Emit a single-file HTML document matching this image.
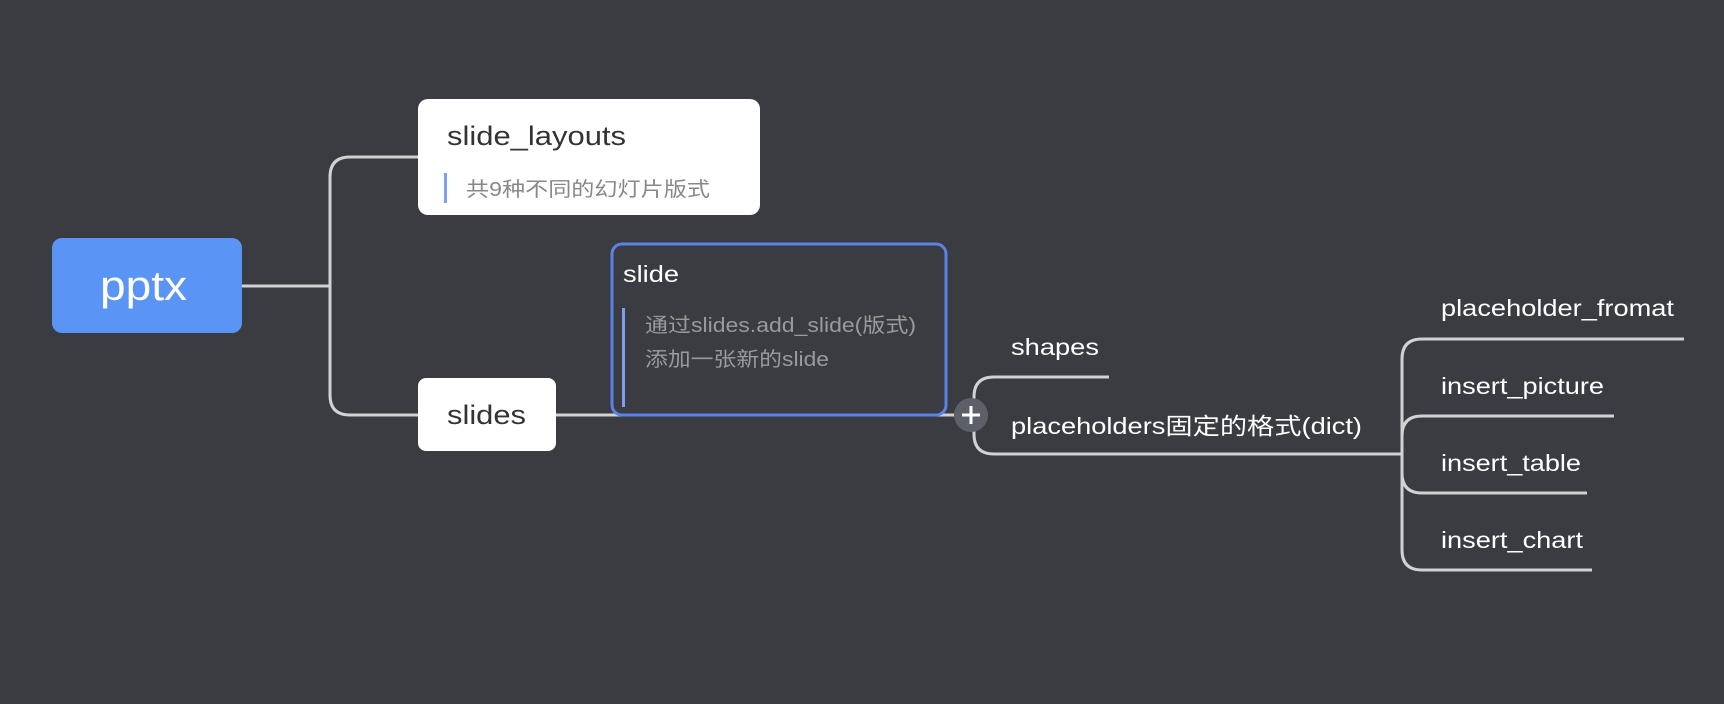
<!DOCTYPE html>
<html><head><meta charset="utf-8"><style>
html,body{margin:0;padding:0;background:#3b3c41;}
svg{display:block}
text{font-family:"Liberation Sans","Noto Sans CJK SC",sans-serif;}
</style></head><body>
<svg width="1724" height="704" viewBox="0 0 1724 704" xmlns="http://www.w3.org/2000/svg">
<rect width="1724" height="704" fill="#3b3c41"/>
<g fill="none" stroke="#d2d2d2" stroke-width="3">
<path d="M242 286 H330"/>
<path d="M418 157 H350 Q330 157 330 177 V395 Q330 415 350 415 H418"/>
<path d="M556 415 H971"/>
<path d="M1109 377 H994 Q974 377 974 397 V434 Q974 454 994 454 H1402"/>
<path d="M1684 339 H1422 Q1402 339 1402 359 V550 Q1402 570 1422 570 H1592"/>
<path d="M1614 416 H1422 Q1402 416 1402 436"/>
<path d="M1587 493 H1422 Q1402 493 1402 473"/>
</g>
<rect x="52" y="238" width="190" height="95" rx="10" fill="#5a95f5"/>
<text x="100" y="300" font-size="42" fill="#fff" font-weight="300" textLength="87" lengthAdjust="spacingAndGlyphs">pptx</text>
<rect x="418" y="99" width="342" height="116" rx="10" fill="#fff"/>
<text x="447" y="145" font-size="27" fill="#333" textLength="179" lengthAdjust="spacingAndGlyphs">slide_layouts</text>
<rect x="444" y="173" width="3" height="30" fill="#7f9ef0"/>
<text x="466" y="196" font-size="20" fill="#888" textLength="244" lengthAdjust="spacingAndGlyphs">共9种不同的幻灯片版式</text>
<rect x="418" y="378" width="138" height="73" rx="8" fill="#fff"/>
<text x="447" y="424" font-size="27" fill="#333" textLength="79" lengthAdjust="spacingAndGlyphs">slides</text>
<rect x="612" y="244" width="334" height="171" rx="10" fill="#3b3c41" stroke="#5b82e6" stroke-width="3"/>
<text x="623" y="282" font-size="23" fill="#fff" textLength="56" lengthAdjust="spacingAndGlyphs">slide</text>
<rect x="622" y="308" width="3" height="99" fill="#7f9ef0"/>
<text x="645" y="332" font-size="20" fill="#9a9a9a" textLength="271" lengthAdjust="spacingAndGlyphs">通过slides.add_slide(版式)</text>
<text x="645" y="366" font-size="20" fill="#9a9a9a" textLength="184" lengthAdjust="spacingAndGlyphs">添加一张新的slide</text>
<circle cx="971" cy="415" r="17" fill="#5d6069"/>
<path d="M962 415 H980 M971 406 V424" stroke="#fff" stroke-width="3"/>
<text x="1011" y="355" font-size="23" fill="#fff" textLength="88" lengthAdjust="spacingAndGlyphs">shapes</text>
<text x="1011" y="434" font-size="23" fill="#fff" textLength="351" lengthAdjust="spacingAndGlyphs">placeholders固定的格式(dict)</text>
<text x="1441" y="316" font-size="23" fill="#fff" textLength="233" lengthAdjust="spacingAndGlyphs">placeholder_fromat</text>
<text x="1441" y="394" font-size="23" fill="#fff" textLength="163" lengthAdjust="spacingAndGlyphs">insert_picture</text>
<text x="1441" y="471" font-size="23" fill="#fff" textLength="140" lengthAdjust="spacingAndGlyphs">insert_table</text>
<text x="1441" y="548" font-size="23" fill="#fff" textLength="142" lengthAdjust="spacingAndGlyphs">insert_chart</text>
</svg>
</body></html>
